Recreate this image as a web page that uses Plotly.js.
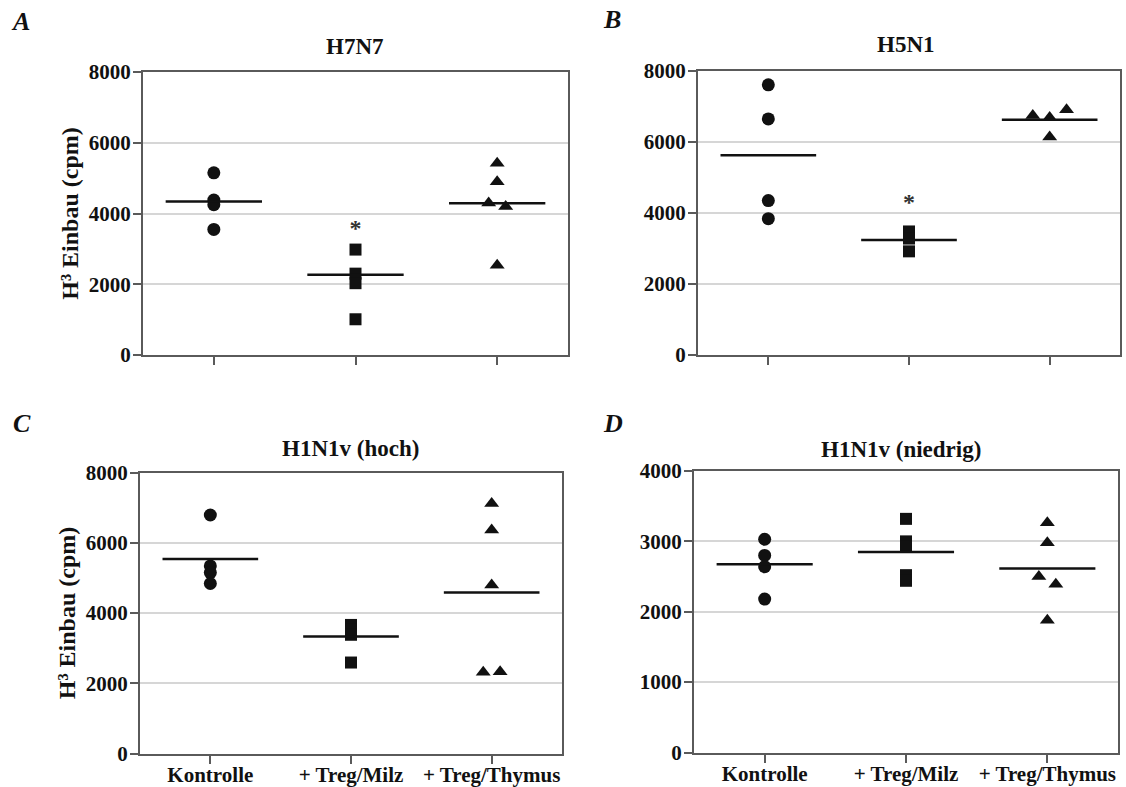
<!DOCTYPE html>
<html>
<head>
<meta charset="utf-8">
<script src="https://cdn.plot.ly/plotly-3.0.1.min.js"></script>
<style>
html,body{margin:0;padding:0;background:#fff;}
#chart{width:1126px;height:787px;}
</style>
</head>
<body>
<div id="chart"></div>
<script>
// ---- data ----
const categories = ["Kontrolle", "+ Treg/Milz", "+ Treg/Thymus"];
const panelTitles = ["H7N7", "H5N1", "H1N1v (hoch)", "H1N1v (niedrig)"];
const panelLetters = ["A", "B", "C", "D"];
const yAxisTitle = "H³ Einbau (cpm)";
const yMax = [8000, 8000, 8000, 4000];
const yTickStep = [2000, 2000, 2000, 1000];

// H7N7
const h7n7Kontrolle = [5150, 4380, 4250, 3550];
const h7n7Milz = [2980, 2300, 2030, 1010];
const h7n7Thymus = [5420, 4900, 4300, 4200, 2540];
const h7n7ThymusJitter = [0, 0, -0.06, 0.06, 0];
const h7n7Means = [4340, 2270, 4290];

// H5N1
const h5n1Kontrolle = [7610, 6650, 4350, 3840];
const h5n1Milz = [3480, 3280, 2920];
const h5n1Thymus = [6750, 6690, 6910, 6140];
const h5n1ThymusJitter = [-0.12, 0, 0.12, 0];
const h5n1Means = [5630, 3240, 6630];

// H1N1v (hoch)
const hochKontrolle = [6790, 5340, 5150, 4840];
const hochMilz = [3660, 3520, 3380, 2590];
const hochThymus = [7120, 6360, 4800, 2310, 2330];
const hochThymusJitter = [0, 0, 0, -0.06, 0.06];
const hochMeans = [5535, 3330, 4585];

// H1N1v (niedrig)
const niedrigKontrolle = [3030, 2800, 2640, 2180];
const niedrigMilz = [3320, 3000, 2930, 2520, 2440];
const niedrigThymus = [3265, 2980, 2500, 2390, 1880];
const niedrigThymusJitter = [0, 0, -0.06, 0.06, 0];
const niedrigMeans = [2675, 2850, 2615];

// significance stars: [group index, y]
const starsH7N7 = [[1, 3520]];
const starsH5N1 = [[1, 4250]];

// ---- build ----
const panels = [
  {groups:[h7n7Kontrolle, h7n7Milz, h7n7Thymus], jit:[null,null,h7n7ThymusJitter], means:h7n7Means, stars:starsH7N7},
  {groups:[h5n1Kontrolle, h5n1Milz, h5n1Thymus], jit:[null,null,h5n1ThymusJitter], means:h5n1Means, stars:starsH5N1},
  {groups:[hochKontrolle, hochMilz, hochThymus], jit:[null,null,hochThymusJitter], means:hochMeans, stars:[]},
  {groups:[niedrigKontrolle, niedrigMilz, niedrigThymus], jit:[null,null,niedrigThymusJitter], means:niedrigMeans, stars:[]}
];
const symbols = ["circle", "square", "triangle-up"];
const symSizes = [13, 12, 13];
const meanHalf = 0.34;

const xDomains = [[143/1126, 568/1126], [698/1126, 1120/1126], [140/1126, 562/1126], [694/1126, 1118/1126]];
const yDomains = [[1-355/787, 1-72/787], [1-355/787, 1-71/787], [1-753.5/787, 1-472.5/787], [1-752.5/787, 1-471/787]];

const FONT = "Liberation Serif, Times New Roman, serif";
const INK = "#111111";
const AXC = "#5a5a5a";

const traces = [];
const layout = {
  width: 1126, height: 787,
  margin: {l:0, r:0, t:0, b:0},
  paper_bgcolor: "#ffffff", plot_bgcolor: "#ffffff",
  showlegend: false,
  font: {family: FONT, color: INK, size: 21, weight: "bold"},
  annotations: []
};

panels.forEach((p, k) => {
  const xa = k === 0 ? "x" : "x" + (k+1);
  const ya = k === 0 ? "y" : "y" + (k+1);
  p.groups.forEach((vals, g) => {
    const jit = p.jit[g];
    traces.push({
      type: "scatter", mode: "markers", xaxis: xa, yaxis: ya,
      x: vals.map((v, i) => g + (jit ? jit[i] : 0)),
      y: vals,
      marker: {symbol: symbols[g], size: symSizes[g], color: INK, line: {width: 0}},
      hoverinfo: "y", cliponaxis: false
    });
  });
  const mx = [], my = [];
  p.means.forEach((m, g) => { mx.push(g - meanHalf, g + meanHalf, null); my.push(m, m, null); });
  traces.push({type:"scatter", mode:"lines", xaxis: xa, yaxis: ya, x: mx, y: my,
    line: {color: INK, width: 2.5}, hoverinfo: "skip"});
  if (p.stars.length) {
    traces.push({type:"scatter", mode:"text", xaxis: xa, yaxis: ya,
      x: p.stars.map(s => s[0]), y: p.stars.map(s => s[1]),
      text: p.stars.map(() => "*"), textposition: "middle center",
      textfont: {family: FONT, size: 24, color: "#333333"}, hoverinfo: "skip"});
  }

  const suffix = k === 0 ? "" : String(k+1);
  const ticks = [];
  for (let v = 0; v <= yMax[k]; v += yTickStep[k]) ticks.push(v);
  layout["xaxis" + suffix] = {
    domain: xDomains[k], anchor: ya, range: [-0.5, 2.5],
    tickmode: "array", tickvals: [0, 1, 2],
    ticktext: k >= 2 ? categories : ["", "", ""],
    showticklabels: k >= 2,
    ticks: "outside", ticklen: 8, tickwidth: 2, tickcolor: AXC,
    ticklabelstandoff: -7,
    showline: true, linecolor: AXC, linewidth: 2, mirror: true,
    showgrid: false, zeroline: false, fixedrange: true,
    tickfont: {family: FONT, size: 21, color: INK, weight: "bold"}
  };
  layout["yaxis" + suffix] = {
    domain: yDomains[k], anchor: xa, range: [0, yMax[k]],
    tickmode: "array", tickvals: ticks, ticktext: ticks.map(String),
    ticks: "outside", ticklen: 8, tickwidth: 2, tickcolor: AXC,
    ticklabelstandoff: -2,
    showline: true, linecolor: AXC, linewidth: 2, mirror: true,
    showgrid: true, gridcolor: "#d6d6d6", gridwidth: 2,
    zeroline: false, fixedrange: true,
    tickfont: {family: FONT, size: 21, color: INK, weight: "bold"},
    title: (k === 0 || k === 2) ? {text: yAxisTitle, standoff: 3,
      font: {family: FONT, size: 24, color: INK, weight: "bold"}} : {text: ""}
  };
});

// panel titles and letters
const titlePos = [[355, 46], [906, 44], [350, 448], [901, 450]];
const letterPos = [[20, 22], [612, 20], [22, 423], [613, 424]];
panelTitles.forEach((t, k) => {
  layout.annotations.push({text: t, xref: "paper", yref: "paper",
    x: titlePos[k][0]/1126, y: 1 - titlePos[k][1]/787, xanchor: "center", yanchor: "middle",
    showarrow: false, font: {family: FONT, size: 23, color: INK, weight: "bold"}});
  layout.annotations.push({text: "<i>" + panelLetters[k] + "</i>", xref: "paper", yref: "paper",
    x: letterPos[k][0]/1126, y: 1 - letterPos[k][1]/787, xanchor: "center", yanchor: "middle",
    showarrow: false, font: {family: FONT, size: 26, color: INK, weight: "bold"}});
});

Plotly.newPlot("chart", traces, layout, {staticPlot: true, displayModeBar: false});
</script>
</body>
</html>
